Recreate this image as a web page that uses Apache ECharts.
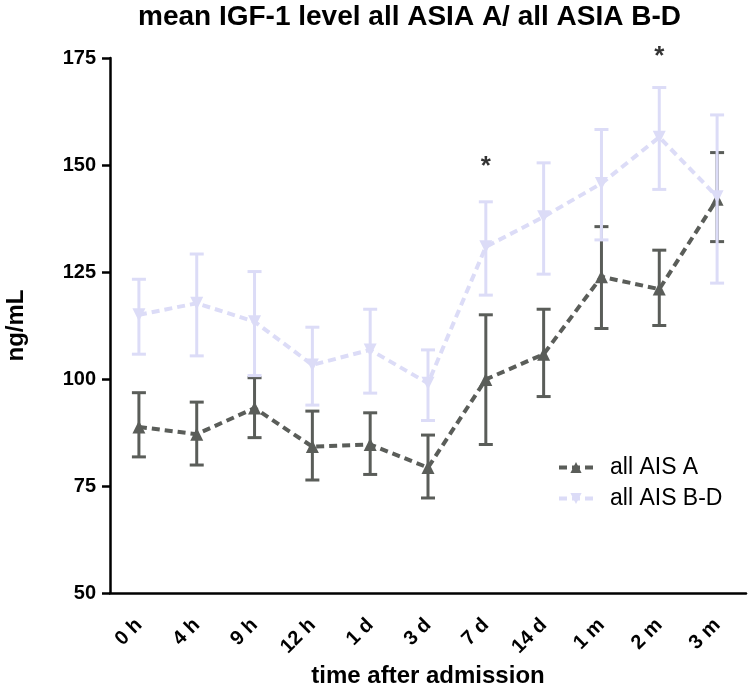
<!DOCTYPE html>
<html><head><meta charset="utf-8">
<script src="https://cdn.jsdelivr.net/npm/echarts@6/dist/echarts.min.js"></script>
<style>html,body{margin:0;padding:0;background:#fff}#c{width:748px;height:685px}</style>
</head><body><div id="c"></div>
<script>
const categories = ['0 h','4 h','9 h','12 h','1 d','3 d','7 d','14 d','1 m','2 m','3 m'];
const aMean = [88.8, 87.1, 93.2, 84.2, 84.7, 79.3, 99.9, 105.8, 123.9, 121.0, 142.0];
const aLow  = [81.8, 79.9, 86.3, 76.4, 77.7, 72.2, 84.7, 95.9, 111.8, 112.5, 132.1];
const aHigh = [96.8, 94.6, 100.3, 92.5, 92.1, 86.9, 115.0, 116.3, 135.6, 130.1, 152.9];
const bMean = [115.0, 117.7, 113.4, 103.3, 106.8, 99.0, 130.9, 137.9, 145.7, 156.5, 142.6];
const bLow  = [105.8, 105.4, 100.8, 93.9, 96.7, 90.3, 119.6, 124.5, 132.5, 144.3, 122.4];
const bHigh = [123.3, 129.2, 125.1, 112.1, 116.3, 106.8, 141.4, 150.5, 158.3, 168.1, 161.7];
const sigCats = ['7 d', '2 m'];
const sigY = [149.6, 175.2];
const yTicks = [50, 75, 100, 125, 150, 175];

const darkC = '#5a5d59';
const lightC = '#dcdcf7';
const FONT = 'Arial, "Liberation Sans", sans-serif';

function errRender(color, lw) {
  return function (params, api) {
    const x = api.value(0), lo = api.value(1), hi = api.value(2);
    const pLo = api.coord([x, lo]), pHi = api.coord([x, hi]);
    const hw = 7;
    const st = { stroke: color, lineWidth: lw, fill: null };
    return { type: 'group', children: [
      { type: 'line', shape: { x1: pLo[0], y1: pLo[1], x2: pHi[0], y2: pHi[1] }, style: st },
      { type: 'line', shape: { x1: pLo[0] - hw, y1: pLo[1], x2: pLo[0] + hw, y2: pLo[1] }, style: st },
      { type: 'line', shape: { x1: pHi[0] - hw, y1: pHi[1], x2: pHi[0] + hw, y2: pHi[1] }, style: st }
    ]};
  };
}

const chart = echarts.init(document.getElementById('c'), null, { renderer: 'canvas' });
chart.setOption({
  animation: false,
  backgroundColor: '#fff',
  title: {
    text: 'mean IGF-1 level all ASIA A/ all ASIA B-D',
    left: 133, top: -2,
    textStyle: { fontFamily: FONT, fontWeight: 'bold', fontSize: 28, color: '#000' }
  },
  legend: {
    orient: 'vertical', left: 552, top: 451,
    itemWidth: 34, itemHeight: 14, itemGap: 8,
    lineStyle: { width: 4 },
    textStyle: { fontFamily: FONT, fontSize: 23, color: '#000', padding: [0, 0, 0, 12] },
    data: ['all AIS A', 'all AIS B-D']
  },
  grid: { left: 110, right: 2, top: 58, bottom: 92, containLabel: false, outerBoundsMode: 'none' },
  xAxis: {
    type: 'category', data: categories, boundaryGap: true,
    name: 'time after admission', nameLocation: 'middle', nameGap: 68,
    nameTextStyle: { fontFamily: FONT, fontWeight: 'bold', fontSize: 24, color: '#000' },
    axisLine: { lineStyle: { color: '#000', width: 2.5 } },
    axisTick: { alignWithLabel: true, length: 8, lineStyle: { color: '#000', width: 2.5 } },
    axisLabel: { rotate: 45, margin: 29, fontFamily: FONT, fontWeight: 'bold', fontSize: 20, color: '#000' },
    splitLine: { show: false }
  },
  yAxis: {
    type: 'value', min: yTicks[0], max: yTicks[yTicks.length - 1], interval: 25,
    name: 'ng/mL', nameLocation: 'middle', nameGap: 82, nameRotate: 90,
    nameTextStyle: { fontFamily: FONT, fontWeight: 'bold', fontSize: 24, color: '#000' },
    axisLine: { show: true, lineStyle: { color: '#000', width: 2.5 } },
    axisTick: { show: true, length: 8, lineStyle: { color: '#000', width: 2.5 } },
    axisLabel: { margin: 14, fontFamily: FONT, fontWeight: 'bold', fontSize: 20, color: '#000' },
    splitLine: { show: false }
  },
  series: [
    {
      type: 'custom', name: 'errA', z: 1, silent: true,
      renderItem: errRender(darkC, 3),
      encode: { x: 0, y: [1, 2] },
      data: categories.map((c, i) => [i, aLow[i], aHigh[i]])
    },
    {
      type: 'line', name: 'all AIS A', z: 2, data: aMean,
      symbol: 'triangle', symbolSize: 13,
      lineStyle: { color: darkC, width: 4, type: [8, 5] },
      itemStyle: { color: darkC }
    },
    {
      type: 'custom', name: 'errB', z: 3, silent: true,
      renderItem: errRender(lightC, 3),
      encode: { x: 0, y: [1, 2] },
      data: categories.map((c, i) => [i, bLow[i], bHigh[i]])
    },
    {
      type: 'line', name: 'all AIS B-D', z: 4, data: bMean,
      symbol: 'triangle', symbolRotate: 180, symbolSize: 13,
      lineStyle: { color: lightC, width: 4, type: [8, 5] },
      itemStyle: { color: lightC }
    },
    {
      type: 'scatter', name: 'sig', z: 5, silent: true, clip: false,
      symbolSize: 1, itemStyle: { color: 'rgba(0,0,0,0)' },
      label: { show: true, position: 'inside', formatter: '*', fontFamily: FONT, fontWeight: 'bold', fontSize: 26, color: '#000' },
      data: sigCats.map((c, i) => [c, sigY[i]])
    }
  ]
});
</script></body></html>
